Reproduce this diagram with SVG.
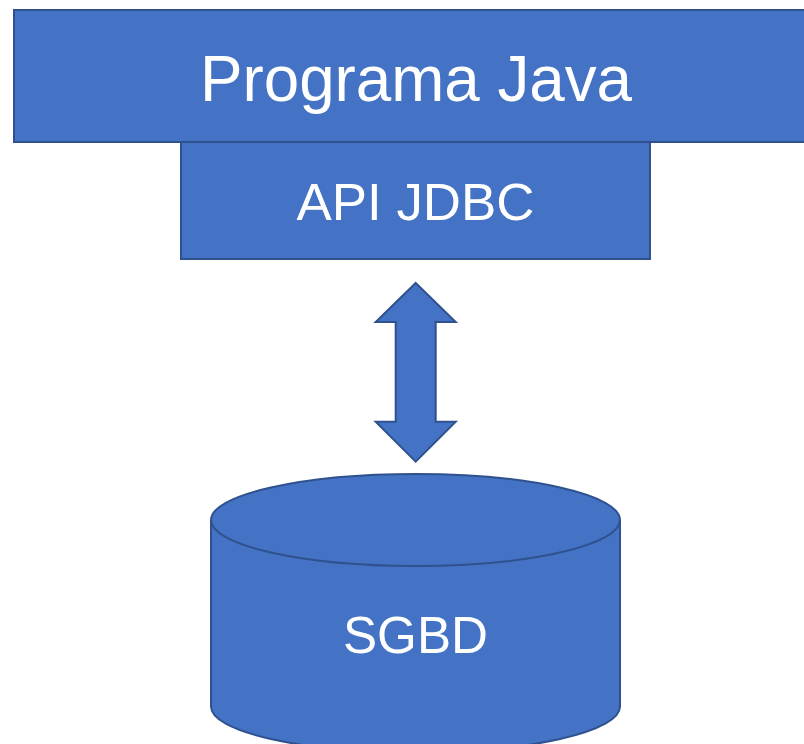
<svg xmlns="http://www.w3.org/2000/svg" width="804" height="744" viewBox="0 0 804 744">
<style>
.box{fill:#4472C4;stroke:#2F528F;stroke-width:2}
.lbl{fill:#FFFFFF;font-family:"Liberation Sans",Arial,sans-serif;text-anchor:middle}
</style>
<rect width="804" height="744" fill="#FFFFFF"/>
<g id="programa-java">
<rect class="box" x="14" y="10" width="804" height="132"/>
<text class="lbl" x="416" y="101" font-size="65" textLength="432" lengthAdjust="spacingAndGlyphs">Programa Java</text>
</g>
<g id="api-jdbc">
<rect class="box" x="181" y="142" width="469" height="117"/>
<text class="lbl" x="415.5" y="220" font-size="52" textLength="238" lengthAdjust="spacingAndGlyphs">API JDBC</text>
</g>
<g id="connectors">
<path class="box" d="M415.7,283 L455.7,322 L435.7,322 L435.7,421.7 L455.7,421.7 L415.7,461.7 L375.7,421.7 L395.7,421.7 L395.7,322 L375.7,322 Z"/>
</g>
<g id="sgbd">
<path class="box" d="M211,520 L211,706.5 A204.5,46 0 0 0 620,706.5 L620,520"/>
<ellipse class="box" cx="415.5" cy="520" rx="204.5" ry="46"/>
<text class="lbl" x="415.5" y="653" font-size="51" textLength="145" lengthAdjust="spacingAndGlyphs">SGBD</text>
</g>
</svg>
